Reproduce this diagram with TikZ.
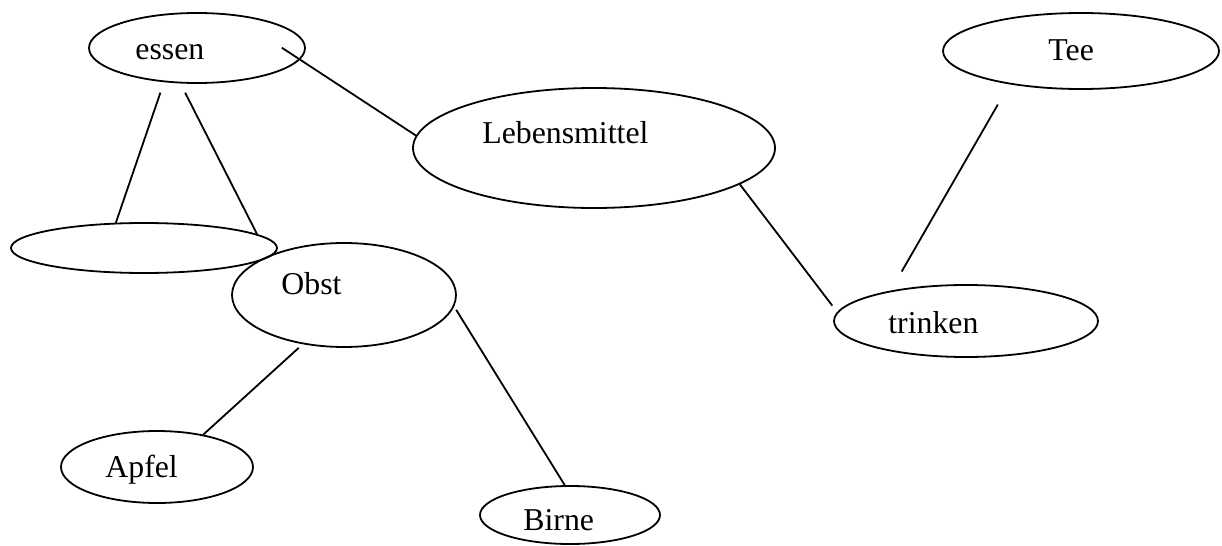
\documentclass[tikz,border=0pt]{standalone}
\usepackage{fontspec}
\setmainfont{Liberation Serif}
\usetikzlibrary{shapes.geometric}

\begin{document}
\begin{tikzpicture}[
    x=0.5pt, y=-0.5pt,
    concept/.style={ellipse, draw, line width=0.9pt, inner sep=0pt},
    word/.style={anchor=base west, inner sep=0pt, font=\fontsize{15.9}{19}\selectfont},
    link/.style={line width=0.9pt}
]
    \useasboundingbox (0,0) rectangle (1222,546);

    % Ellipses
    \node[concept, minimum width=108pt, minimum height=35pt] (essen) at (197,48) {};
    \node[concept, minimum width=181pt, minimum height=60pt] (lebensmittel) at (594,148) {};
    \node[concept, minimum width=138pt, minimum height=38pt] (tee) at (1081,51) {};
    \node[concept, minimum width=132pt, minimum height=36pt] (trinken) at (966,321) {};
    \node[concept, minimum width=133pt, minimum height=25pt] (leer) at (144,248) {};
    \node[concept, minimum width=112pt, minimum height=52pt] (obst) at (344,295) {};
    \node[concept, minimum width=96pt, minimum height=36pt] (apfel) at (157,467) {};
    \node[concept, minimum width=90pt, minimum height=29pt] (birne) at (570,515) {};

    % Words
    \node[word] (essen-text) at (135,59) {essen};
    \node[word] (lebensmittel-text) at (482,143) {Lebensmittel};
    \node[word] (tee-text) at (1048,61) {Tee};
    \node[word] (trinken-text) at (888,333) {trinken};
    \node[word] (obst-text) at (281,294) {Obst};
    \node[word] (apfel-text) at (105,477) {Apfel};
    \node[word] (birne-text) at (523,530) {Birne};

    % Lines
    \draw[link, shorten <=31pt] (essen.46) -- (lebensmittel.176);
    \draw[link, shorten <=5.5pt] (essen.226) -- (leer.138);
    \draw[link, shorten <=5.2pt] (essen.245) -- (leer.7);
    \draw[link, shorten >=4pt] (lebensmittel.346) -- (trinken.176);
    \draw[link, shorten <=11.7pt, shorten >=11pt] (tee.205) -- (trinken.158);
    \draw[link, shorten <=2.7pt] (obst.230) -- (apfel.35);
    \draw[link, shorten <=1.9pt] (obst.354) -- (birne.100);
\end{tikzpicture}
\end{document}
